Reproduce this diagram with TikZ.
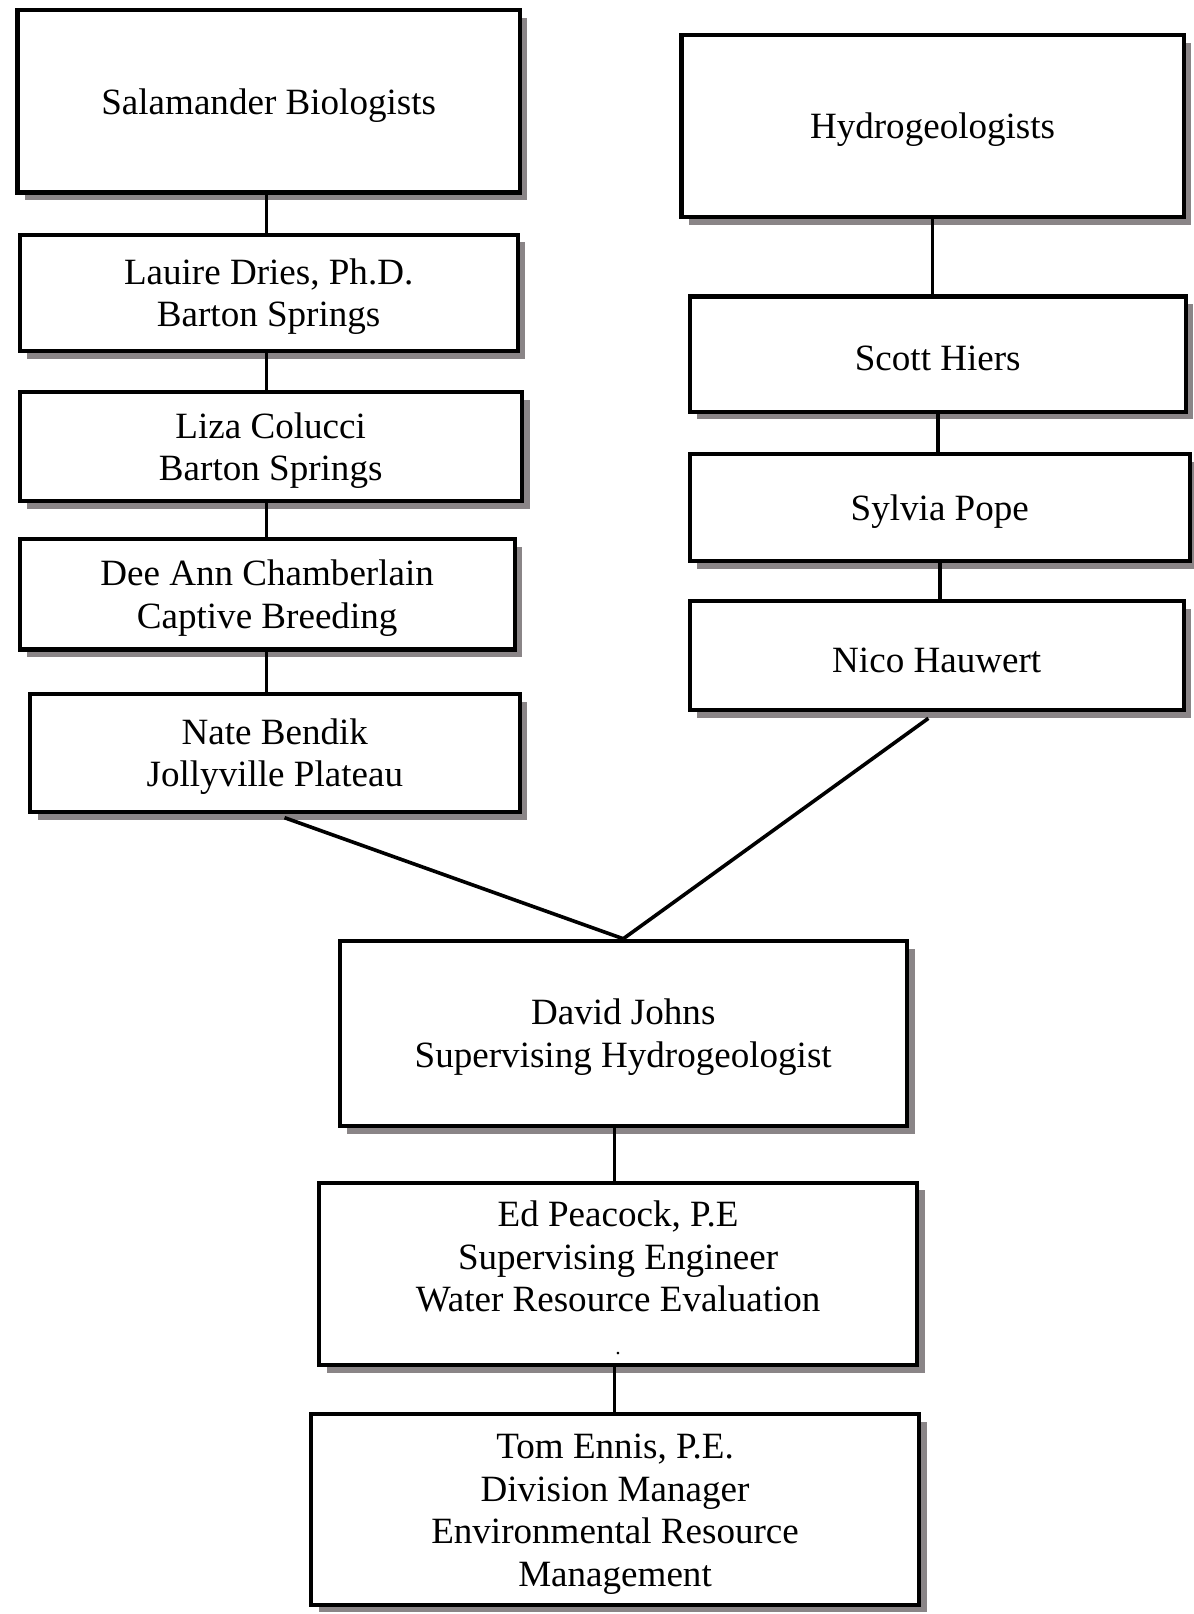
\documentclass[tikz,border=0pt]{standalone}
\usepackage{fontspec}
\setmainfont{Liberation Serif}
\usetikzlibrary{shadows}
\definecolor{shadowgray}{HTML}{8A8587}
\newcommand\tstrut{\rule{0pt}{18.5pt}}
\begin{document}
\begin{tikzpicture}[x=0.02cm,y=-0.02cm,
  box/.style={draw=black, line width=2.3pt, fill=white, align=center,
    font=\fontsize{20.5}{23.5}\selectfont, inner sep=0pt,
    drop shadow={shadow xshift=0.15cm, shadow yshift=-0.15cm, fill=shadowgray, opacity=1}},
  link/.style={line width=2pt}]
\useasboundingbox[fill=white] (0,0) rectangle (1159,1568);
\node[box, minimum width=9.76cm, minimum height=3.54cm] (sal) at (261,98.5) {\tstrut Salamander Biologists};
\node[box, minimum width=9.76cm, minimum height=3.54cm] (hyd) at (906,122.5) {\tstrut Hydrogeologists};
\node[box, minimum width=9.68cm, minimum height=2.26cm] (dries) at (261,284.5) {\tstrut Lauire Dries, Ph.D.\\Barton Springs};
\node[box, minimum width=9.76cm, minimum height=2.12cm] (colucci) at (263,434) {\tstrut Liza Colucci\\Barton Springs};
\node[box, minimum width=9.62cm, minimum height=2.14cm] (cham) at (259.5,577.5) {\tstrut Dee Ann Chamberlain\\Captive Breeding};
\node[box, minimum width=9.52cm, minimum height=2.30cm] (bendik) at (267,731.5) {\tstrut Nate Bendik\\Jollyville Plateau};
\node[box, minimum width=9.64cm, minimum height=2.24cm] (hiers) at (911,344) {\tstrut Scott Hiers};
\node[box, minimum width=9.72cm, minimum height=2.08cm] (pope) at (913,493) {\tstrut Sylvia Pope};
\node[box, minimum width=9.60cm, minimum height=2.12cm] (hauwert) at (910,637) {\tstrut Nico Hauwert};
\node[box, minimum width=11.02cm, minimum height=3.60cm] (johns) at (605.5,1004) {\tstrut David Johns\\Supervising Hydrogeologist};
\node[box, minimum width=11.62cm, minimum height=3.54cm] (peacock) at (600.5,1237.5) {\tstrut Ed Peacock, P.E\\Supervising Engineer\\Water Resource Evaluation\\{\fontsize{12}{23.5}\selectfont .}};
\node[box, minimum width=11.82cm, minimum height=3.70cm] (ennis) at (597.5,1466.5) {\tstrut Tom Ennis, P.E.\\Division Manager\\Environmental Resource\\Management};
\coordinate (lx) at (259,0);
\coordinate (mx) at (597,0);
\draw[link] (sal.south -| lx) -- (dries.north -| lx);
\draw[link] (dries.south -| lx) -- (colucci.north -| lx);
\draw[link] (colucci.south -| lx) -- (cham.north -| lx);
\draw[link] (cham.south -| lx) -- (bendik.north -| lx);
\draw[link] (hyd.south) -- (hyd.south |- hiers.north);
\draw[link] (hiers.south) -- (hiers.south |- pope.north);
\draw[link] (pope.south) -- (pope.south |- hauwert.north);
\draw[link, shorten <=0.2cm] (bendik.south) -- (johns.north);
\draw[link, shorten <=0.2cm] (hauwert.south) -- (johns.north);
\draw[link] (johns.south -| mx) -- (peacock.north -| mx);
\draw[link] (peacock.south -| mx) -- (ennis.north -| mx);
\end{tikzpicture}
\end{document}
